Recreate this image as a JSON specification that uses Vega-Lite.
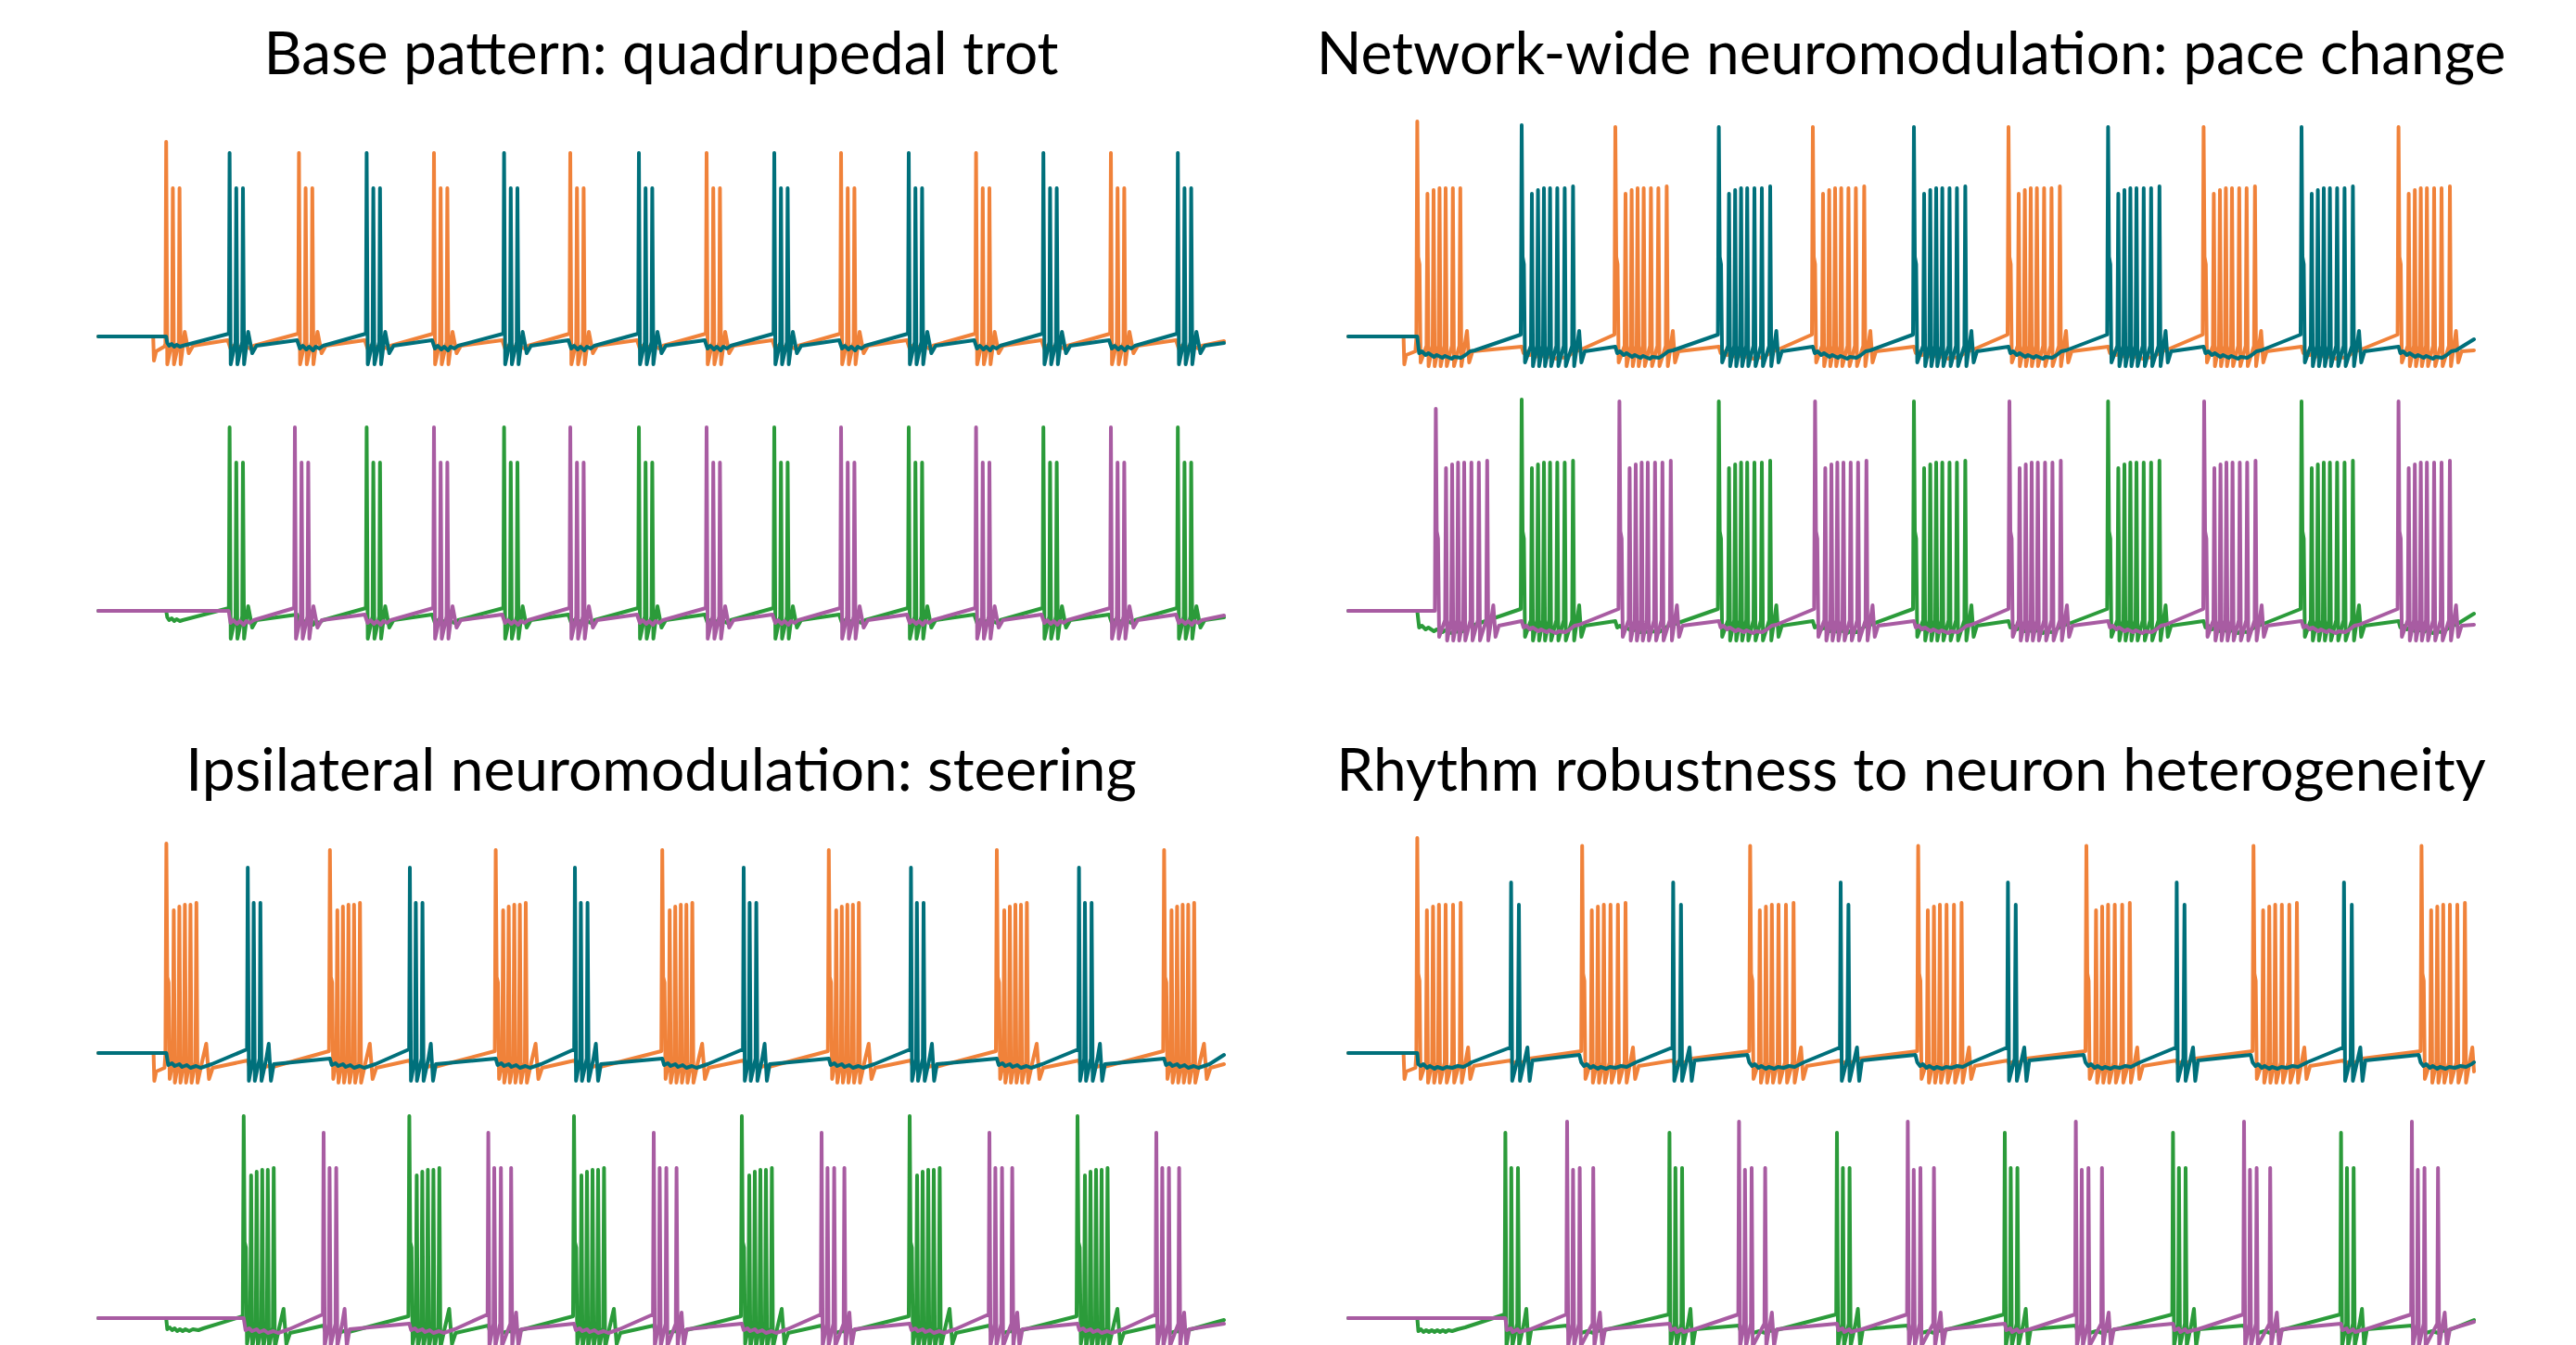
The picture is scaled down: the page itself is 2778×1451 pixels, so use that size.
{
"$schema":"https://vega.github.io/schema/vega-lite/v6.json",
"background":"white",
"padding":{"left":104,"top":29,"right":0,"bottom":0},
"config":{"view":{"stroke":null},"title":{"font":"Lato","fontSize":64,"fontWeight":"normal","color":"#000000","anchor":"middle","offset":36},"line":{"strokeWidth":4,"strokeJoin":"round","strokeCap":"round"}},
"datasets":{
"Ao":[{"t":0,"v":-65},{"t":296,"v":-65},{"t":300,"v":-78},{"t":312,"v":-73},{"t":355,"v":-70.5},
{"t":362,"v":-69},{"t":366,"v":40},{"t":372,"v":-80},{"t":398,"v":-68},{"t":402,"v":15},{"t":408,"v":-80},{"t":434,"v":-68},{"t":438,"v":15},{"t":444,"v":-80},{"t":466,"v":-62.5},{"t":488,"v":-74},{"t":511,"v":-70},
{"t":698,"v":-67},{"t":713,"v":-71.5},{"t":728,"v":-70},{"t":748,"v":-72},{"t":763,"v":-70.5},{"t":784,"v":-72.5},{"t":798,"v":-70.5},{"t":818,"v":-71.5},{"t":838,"v":-70},
{"t":1078,"v":-63.5},{"t":1082,"v":34},{"t":1088,"v":-80},{"t":1114,"v":-68},{"t":1118,"v":15},{"t":1124,"v":-80},{"t":1150,"v":-68},{"t":1154,"v":15},{"t":1160,"v":-80},{"t":1182,"v":-62.5},{"t":1204,"v":-74},{"t":1227,"v":-70},
{"t":1437,"v":-67},{"t":1452,"v":-71.5},{"t":1467,"v":-70},{"t":1487,"v":-72},{"t":1502,"v":-70.5},{"t":1523,"v":-72.5},{"t":1537,"v":-70.5},{"t":1557,"v":-71.5},{"t":1577,"v":-70},
{"t":1806,"v":-63.5},{"t":1810,"v":34},{"t":1816,"v":-80},{"t":1842,"v":-68},{"t":1846,"v":15},{"t":1852,"v":-80},{"t":1878,"v":-68},{"t":1882,"v":15},{"t":1888,"v":-80},{"t":1910,"v":-62.5},{"t":1932,"v":-74},{"t":1955,"v":-70},
{"t":2178,"v":-67},{"t":2193,"v":-71.5},{"t":2208,"v":-70},{"t":2228,"v":-72},{"t":2243,"v":-70.5},{"t":2264,"v":-72.5},{"t":2278,"v":-70.5},{"t":2298,"v":-71.5},{"t":2318,"v":-70},
{"t":2541,"v":-63.5},{"t":2545,"v":34},{"t":2551,"v":-80},{"t":2577,"v":-68},{"t":2581,"v":15},{"t":2587,"v":-80},{"t":2613,"v":-68},{"t":2617,"v":15},{"t":2623,"v":-80},{"t":2645,"v":-62.5},{"t":2667,"v":-74},{"t":2690,"v":-70},
{"t":2905,"v":-67},{"t":2920,"v":-71.5},{"t":2935,"v":-70},{"t":2955,"v":-72},{"t":2970,"v":-70.5},{"t":2991,"v":-72.5},{"t":3005,"v":-70.5},{"t":3025,"v":-71.5},{"t":3045,"v":-70},
{"t":3276,"v":-63.5},{"t":3280,"v":34},{"t":3286,"v":-80},{"t":3312,"v":-68},{"t":3316,"v":15},{"t":3322,"v":-80},{"t":3348,"v":-68},{"t":3352,"v":15},{"t":3358,"v":-80},{"t":3380,"v":-62.5},{"t":3402,"v":-74},{"t":3425,"v":-70},
{"t":3635,"v":-67},{"t":3650,"v":-71.5},{"t":3665,"v":-70},{"t":3685,"v":-72},{"t":3700,"v":-70.5},{"t":3721,"v":-72.5},{"t":3735,"v":-70.5},{"t":3755,"v":-71.5},{"t":3775,"v":-70},
{"t":4001,"v":-63.5},{"t":4005,"v":34},{"t":4011,"v":-80},{"t":4037,"v":-68},{"t":4041,"v":15},{"t":4047,"v":-80},{"t":4073,"v":-68},{"t":4077,"v":15},{"t":4083,"v":-80},{"t":4105,"v":-62.5},{"t":4127,"v":-74},{"t":4150,"v":-70},
{"t":4360,"v":-67},{"t":4375,"v":-71.5},{"t":4390,"v":-70},{"t":4410,"v":-72},{"t":4425,"v":-70.5},{"t":4446,"v":-72.5},{"t":4460,"v":-70.5},{"t":4480,"v":-71.5},{"t":4500,"v":-70},
{"t":4729,"v":-63.5},{"t":4733,"v":34},{"t":4739,"v":-80},{"t":4765,"v":-68},{"t":4769,"v":15},{"t":4775,"v":-80},{"t":4801,"v":-68},{"t":4805,"v":15},{"t":4811,"v":-80},{"t":4833,"v":-62.5},{"t":4855,"v":-74},{"t":4878,"v":-70},
{"t":5086,"v":-67},{"t":5101,"v":-71.5},{"t":5116,"v":-70},{"t":5136,"v":-72},{"t":5151,"v":-70.5},{"t":5172,"v":-72.5},{"t":5186,"v":-70.5},{"t":5206,"v":-71.5},{"t":5226,"v":-70},
{"t":5456,"v":-63.5},{"t":5460,"v":34},{"t":5466,"v":-80},{"t":5492,"v":-68},{"t":5496,"v":15},{"t":5502,"v":-80},{"t":5528,"v":-68},{"t":5532,"v":15},{"t":5538,"v":-80},{"t":5560,"v":-62.5},{"t":5582,"v":-74},{"t":5605,"v":-70},
{"t":5811,"v":-67},{"t":5826,"v":-71.5},{"t":5841,"v":-70},{"t":5861,"v":-72},{"t":5876,"v":-70.5},{"t":5897,"v":-72.5},{"t":5911,"v":-70.5},{"t":5931,"v":-71.5},{"t":5951,"v":-70},
{"t":6070,"v":-67.5}],
"Ap":[{"t":0,"v":-65},{"t":703,"v":-65},{"t":713,"v":-71.5},{"t":728,"v":-70},{"t":748,"v":-72},{"t":763,"v":-70.5},{"t":784,"v":-72.5},{"t":798,"v":-70.5},{"t":818,"v":-71.5},{"t":838,"v":-70},
{"t":1056,"v":-63.5},{"t":1060,"v":34},{"t":1066,"v":-80},{"t":1092,"v":-68},{"t":1096,"v":15},{"t":1102,"v":-80},{"t":1128,"v":-68},{"t":1132,"v":15},{"t":1138,"v":-80},{"t":1160,"v":-62.5},{"t":1182,"v":-74},{"t":1205,"v":-70},
{"t":1437,"v":-67},{"t":1452,"v":-71.5},{"t":1467,"v":-70},{"t":1487,"v":-72},{"t":1502,"v":-70.5},{"t":1523,"v":-72.5},{"t":1537,"v":-70.5},{"t":1557,"v":-71.5},{"t":1577,"v":-70},
{"t":1806,"v":-63.5},{"t":1810,"v":34},{"t":1816,"v":-80},{"t":1842,"v":-68},{"t":1846,"v":15},{"t":1852,"v":-80},{"t":1878,"v":-68},{"t":1882,"v":15},{"t":1888,"v":-80},{"t":1910,"v":-62.5},{"t":1932,"v":-74},{"t":1955,"v":-70},
{"t":2178,"v":-67},{"t":2193,"v":-71.5},{"t":2208,"v":-70},{"t":2228,"v":-72},{"t":2243,"v":-70.5},{"t":2264,"v":-72.5},{"t":2278,"v":-70.5},{"t":2298,"v":-71.5},{"t":2318,"v":-70},
{"t":2541,"v":-63.5},{"t":2545,"v":34},{"t":2551,"v":-80},{"t":2577,"v":-68},{"t":2581,"v":15},{"t":2587,"v":-80},{"t":2613,"v":-68},{"t":2617,"v":15},{"t":2623,"v":-80},{"t":2645,"v":-62.5},{"t":2667,"v":-74},{"t":2690,"v":-70},
{"t":2905,"v":-67},{"t":2920,"v":-71.5},{"t":2935,"v":-70},{"t":2955,"v":-72},{"t":2970,"v":-70.5},{"t":2991,"v":-72.5},{"t":3005,"v":-70.5},{"t":3025,"v":-71.5},{"t":3045,"v":-70},
{"t":3276,"v":-63.5},{"t":3280,"v":34},{"t":3286,"v":-80},{"t":3312,"v":-68},{"t":3316,"v":15},{"t":3322,"v":-80},{"t":3348,"v":-68},{"t":3352,"v":15},{"t":3358,"v":-80},{"t":3380,"v":-62.5},{"t":3402,"v":-74},{"t":3425,"v":-70},
{"t":3635,"v":-67},{"t":3650,"v":-71.5},{"t":3665,"v":-70},{"t":3685,"v":-72},{"t":3700,"v":-70.5},{"t":3721,"v":-72.5},{"t":3735,"v":-70.5},{"t":3755,"v":-71.5},{"t":3775,"v":-70},
{"t":4001,"v":-63.5},{"t":4005,"v":34},{"t":4011,"v":-80},{"t":4037,"v":-68},{"t":4041,"v":15},{"t":4047,"v":-80},{"t":4073,"v":-68},{"t":4077,"v":15},{"t":4083,"v":-80},{"t":4105,"v":-62.5},{"t":4127,"v":-74},{"t":4150,"v":-70},
{"t":4360,"v":-67},{"t":4375,"v":-71.5},{"t":4390,"v":-70},{"t":4410,"v":-72},{"t":4425,"v":-70.5},{"t":4446,"v":-72.5},{"t":4460,"v":-70.5},{"t":4480,"v":-71.5},{"t":4500,"v":-70},
{"t":4729,"v":-63.5},{"t":4733,"v":34},{"t":4739,"v":-80},{"t":4765,"v":-68},{"t":4769,"v":15},{"t":4775,"v":-80},{"t":4801,"v":-68},{"t":4805,"v":15},{"t":4811,"v":-80},{"t":4833,"v":-62.5},{"t":4855,"v":-74},{"t":4878,"v":-70},
{"t":5086,"v":-67},{"t":5101,"v":-71.5},{"t":5116,"v":-70},{"t":5136,"v":-72},{"t":5151,"v":-70.5},{"t":5172,"v":-72.5},{"t":5186,"v":-70.5},{"t":5206,"v":-71.5},{"t":5226,"v":-70},
{"t":5456,"v":-63.5},{"t":5460,"v":34},{"t":5466,"v":-80},{"t":5492,"v":-68},{"t":5496,"v":15},{"t":5502,"v":-80},{"t":5528,"v":-68},{"t":5532,"v":15},{"t":5538,"v":-80},{"t":5560,"v":-62.5},{"t":5582,"v":-74},{"t":5605,"v":-70},
{"t":5811,"v":-67},{"t":5826,"v":-71.5},{"t":5841,"v":-70},{"t":5861,"v":-72},{"t":5876,"v":-70.5},{"t":5897,"v":-72.5},{"t":5911,"v":-70.5},{"t":5931,"v":-71.5},{"t":5951,"v":-70},
{"t":6070,"v":-67.5}],
"At":[{"t":0,"v":-65},{"t":366,"v":-65},{"t":372,"v":-68.5},{"t":382,"v":-70},{"t":395,"v":-69},{"t":410,"v":-70.5},{"t":422,"v":-69.5},{"t":440,"v":-70.5},{"t":455,"v":-70},
{"t":704,"v":-63.5},{"t":708,"v":34},{"t":714,"v":-80},{"t":740,"v":-68},{"t":744,"v":15},{"t":750,"v":-80},{"t":776,"v":-68},{"t":780,"v":15},{"t":786,"v":-80},{"t":808,"v":-62.5},{"t":830,"v":-74},{"t":853,"v":-70},
{"t":1072,"v":-67},{"t":1087,"v":-71.5},{"t":1102,"v":-70},{"t":1122,"v":-72},{"t":1137,"v":-70.5},{"t":1158,"v":-72.5},{"t":1172,"v":-70.5},{"t":1192,"v":-71.5},{"t":1212,"v":-70},
{"t":1443,"v":-63.5},{"t":1447,"v":34},{"t":1453,"v":-80},{"t":1479,"v":-68},{"t":1483,"v":15},{"t":1489,"v":-80},{"t":1515,"v":-68},{"t":1519,"v":15},{"t":1525,"v":-80},{"t":1547,"v":-62.5},{"t":1569,"v":-74},{"t":1592,"v":-70},
{"t":1800,"v":-67},{"t":1815,"v":-71.5},{"t":1830,"v":-70},{"t":1850,"v":-72},{"t":1865,"v":-70.5},{"t":1886,"v":-72.5},{"t":1900,"v":-70.5},{"t":1920,"v":-71.5},{"t":1940,"v":-70},
{"t":2184,"v":-63.5},{"t":2188,"v":34},{"t":2194,"v":-80},{"t":2220,"v":-68},{"t":2224,"v":15},{"t":2230,"v":-80},{"t":2256,"v":-68},{"t":2260,"v":15},{"t":2266,"v":-80},{"t":2288,"v":-62.5},{"t":2310,"v":-74},{"t":2333,"v":-70},
{"t":2535,"v":-67},{"t":2550,"v":-71.5},{"t":2565,"v":-70},{"t":2585,"v":-72},{"t":2600,"v":-70.5},{"t":2621,"v":-72.5},{"t":2635,"v":-70.5},{"t":2655,"v":-71.5},{"t":2675,"v":-70},
{"t":2911,"v":-63.5},{"t":2915,"v":34},{"t":2921,"v":-80},{"t":2947,"v":-68},{"t":2951,"v":15},{"t":2957,"v":-80},{"t":2983,"v":-68},{"t":2987,"v":15},{"t":2993,"v":-80},{"t":3015,"v":-62.5},{"t":3037,"v":-74},{"t":3060,"v":-70},
{"t":3270,"v":-67},{"t":3285,"v":-71.5},{"t":3300,"v":-70},{"t":3320,"v":-72},{"t":3335,"v":-70.5},{"t":3356,"v":-72.5},{"t":3370,"v":-70.5},{"t":3390,"v":-71.5},{"t":3410,"v":-70},
{"t":3641,"v":-63.5},{"t":3645,"v":34},{"t":3651,"v":-80},{"t":3677,"v":-68},{"t":3681,"v":15},{"t":3687,"v":-80},{"t":3713,"v":-68},{"t":3717,"v":15},{"t":3723,"v":-80},{"t":3745,"v":-62.5},{"t":3767,"v":-74},{"t":3790,"v":-70},
{"t":3995,"v":-67},{"t":4010,"v":-71.5},{"t":4025,"v":-70},{"t":4045,"v":-72},{"t":4060,"v":-70.5},{"t":4081,"v":-72.5},{"t":4095,"v":-70.5},{"t":4115,"v":-71.5},{"t":4135,"v":-70},
{"t":4366,"v":-63.5},{"t":4370,"v":34},{"t":4376,"v":-80},{"t":4402,"v":-68},{"t":4406,"v":15},{"t":4412,"v":-80},{"t":4438,"v":-68},{"t":4442,"v":15},{"t":4448,"v":-80},{"t":4470,"v":-62.5},{"t":4492,"v":-74},{"t":4515,"v":-70},
{"t":4723,"v":-67},{"t":4738,"v":-71.5},{"t":4753,"v":-70},{"t":4773,"v":-72},{"t":4788,"v":-70.5},{"t":4809,"v":-72.5},{"t":4823,"v":-70.5},{"t":4843,"v":-71.5},{"t":4863,"v":-70},
{"t":5092,"v":-63.5},{"t":5096,"v":34},{"t":5102,"v":-80},{"t":5128,"v":-68},{"t":5132,"v":15},{"t":5138,"v":-80},{"t":5164,"v":-68},{"t":5168,"v":15},{"t":5174,"v":-80},{"t":5196,"v":-62.5},{"t":5218,"v":-74},{"t":5241,"v":-70},
{"t":5450,"v":-67},{"t":5465,"v":-71.5},{"t":5480,"v":-70},{"t":5500,"v":-72},{"t":5515,"v":-70.5},{"t":5536,"v":-72.5},{"t":5550,"v":-70.5},{"t":5570,"v":-71.5},{"t":5590,"v":-70},
{"t":5817,"v":-63.5},{"t":5821,"v":34},{"t":5827,"v":-80},{"t":5853,"v":-68},{"t":5857,"v":15},{"t":5863,"v":-80},{"t":5889,"v":-68},{"t":5893,"v":15},{"t":5899,"v":-80},{"t":5921,"v":-62.5},{"t":5943,"v":-74},{"t":5966,"v":-70},
{"t":6070,"v":-68.5}],
"Bo":[{"t":0,"v":-65},{"t":298,"v":-65},{"t":302,"v":-80},{"t":312,"v":-75},{"t":362,"v":-73},{"t":367,"v":-66},
{"t":372,"v":51},{"t":377,"v":-22},{"t":384,"v":-26},{"t":390,"v":-79},{"t":422,"v":-70},{"t":427,"v":12},{"t":433,"v":-81},{"t":455,"v":-70},{"t":460,"v":14},{"t":466,"v":-81},{"t":487,"v":-70},{"t":492,"v":15},{"t":498,"v":-81},{"t":520,"v":-70},{"t":525,"v":15},{"t":531,"v":-81},{"t":559,"v":-70},{"t":564,"v":15},{"t":570,"v":-81},{"t":599,"v":-70},{"t":604,"v":15},{"t":610,"v":-81},{"t":640,"v":-62},{"t":652,"v":-79},{"t":670,"v":-73},
{"t":935,"v":-70.5},{"t":945,"v":-74},{"t":960,"v":-73},{"t":980,"v":-75},{"t":995,"v":-74},{"t":1025,"v":-76},{"t":1040,"v":-75},{"t":1070,"v":-76.5},{"t":1085,"v":-75.5},{"t":1120,"v":-77},{"t":1135,"v":-76},{"t":1170,"v":-76.5},{"t":1195,"v":-75},{"t":1220,"v":-73},{"t":1245,"v":-72.5},
{"t":1435,"v":-64},{"t":1440,"v":48},{"t":1445,"v":-22},{"t":1452,"v":-26},{"t":1458,"v":-79},{"t":1490,"v":-70},{"t":1495,"v":12},{"t":1501,"v":-81},{"t":1523,"v":-70},{"t":1528,"v":14},{"t":1534,"v":-81},{"t":1555,"v":-70},{"t":1560,"v":15},{"t":1566,"v":-81},{"t":1588,"v":-70},{"t":1593,"v":15},{"t":1599,"v":-81},{"t":1627,"v":-70},{"t":1632,"v":15},{"t":1638,"v":-81},{"t":1667,"v":-70},{"t":1672,"v":15},{"t":1678,"v":-81},{"t":1712,"v":-70},{"t":1717,"v":16},{"t":1723,"v":-81},{"t":1750,"v":-62},{"t":1762,"v":-79},{"t":1780,"v":-73},
{"t":1998,"v":-70.5},{"t":2008,"v":-74},{"t":2023,"v":-73},{"t":2043,"v":-75},{"t":2058,"v":-74},{"t":2088,"v":-76},{"t":2103,"v":-75},{"t":2133,"v":-76.5},{"t":2148,"v":-75.5},{"t":2183,"v":-77},{"t":2198,"v":-76},{"t":2233,"v":-76.5},{"t":2258,"v":-75},{"t":2283,"v":-73},{"t":2308,"v":-72.5},
{"t":2500,"v":-64},{"t":2505,"v":48},{"t":2510,"v":-22},{"t":2517,"v":-26},{"t":2523,"v":-79},{"t":2555,"v":-70},{"t":2560,"v":12},{"t":2566,"v":-81},{"t":2588,"v":-70},{"t":2593,"v":14},{"t":2599,"v":-81},{"t":2620,"v":-70},{"t":2625,"v":15},{"t":2631,"v":-81},{"t":2653,"v":-70},{"t":2658,"v":15},{"t":2664,"v":-81},{"t":2692,"v":-70},{"t":2697,"v":15},{"t":2703,"v":-81},{"t":2732,"v":-70},{"t":2737,"v":15},{"t":2743,"v":-81},{"t":2777,"v":-70},{"t":2782,"v":16},{"t":2788,"v":-81},{"t":2815,"v":-62},{"t":2827,"v":-79},{"t":2845,"v":-73},
{"t":3050,"v":-70.5},{"t":3060,"v":-74},{"t":3075,"v":-73},{"t":3095,"v":-75},{"t":3110,"v":-74},{"t":3140,"v":-76},{"t":3155,"v":-75},{"t":3185,"v":-76.5},{"t":3200,"v":-75.5},{"t":3235,"v":-77},{"t":3250,"v":-76},{"t":3285,"v":-76.5},{"t":3310,"v":-75},{"t":3335,"v":-73},{"t":3360,"v":-72.5},
{"t":3555,"v":-64},{"t":3560,"v":48},{"t":3565,"v":-22},{"t":3572,"v":-26},{"t":3578,"v":-79},{"t":3610,"v":-70},{"t":3615,"v":12},{"t":3621,"v":-81},{"t":3643,"v":-70},{"t":3648,"v":14},{"t":3654,"v":-81},{"t":3675,"v":-70},{"t":3680,"v":15},{"t":3686,"v":-81},{"t":3708,"v":-70},{"t":3713,"v":15},{"t":3719,"v":-81},{"t":3747,"v":-70},{"t":3752,"v":15},{"t":3758,"v":-81},{"t":3787,"v":-70},{"t":3792,"v":15},{"t":3798,"v":-81},{"t":3832,"v":-70},{"t":3837,"v":16},{"t":3843,"v":-81},{"t":3870,"v":-62},{"t":3882,"v":-79},{"t":3900,"v":-73},
{"t":4097,"v":-70.5},{"t":4107,"v":-74},{"t":4122,"v":-73},{"t":4142,"v":-75},{"t":4157,"v":-74},{"t":4187,"v":-76},{"t":4202,"v":-75},{"t":4232,"v":-76.5},{"t":4247,"v":-75.5},{"t":4282,"v":-77},{"t":4297,"v":-76},{"t":4332,"v":-76.5},{"t":4357,"v":-75},{"t":4382,"v":-73},{"t":4407,"v":-72.5},
{"t":4607,"v":-64},{"t":4612,"v":48},{"t":4617,"v":-22},{"t":4624,"v":-26},{"t":4630,"v":-79},{"t":4662,"v":-70},{"t":4667,"v":12},{"t":4673,"v":-81},{"t":4695,"v":-70},{"t":4700,"v":14},{"t":4706,"v":-81},{"t":4727,"v":-70},{"t":4732,"v":15},{"t":4738,"v":-81},{"t":4760,"v":-70},{"t":4765,"v":15},{"t":4771,"v":-81},{"t":4799,"v":-70},{"t":4804,"v":15},{"t":4810,"v":-81},{"t":4839,"v":-70},{"t":4844,"v":15},{"t":4850,"v":-81},{"t":4884,"v":-70},{"t":4889,"v":16},{"t":4895,"v":-81},{"t":4922,"v":-62},{"t":4934,"v":-79},{"t":4952,"v":-73},
{"t":5140,"v":-70.5},{"t":5150,"v":-74},{"t":5165,"v":-73},{"t":5185,"v":-75},{"t":5200,"v":-74},{"t":5230,"v":-76},{"t":5245,"v":-75},{"t":5275,"v":-76.5},{"t":5290,"v":-75.5},{"t":5325,"v":-77},{"t":5340,"v":-76},{"t":5375,"v":-76.5},{"t":5400,"v":-75},{"t":5425,"v":-73},{"t":5450,"v":-72.5},
{"t":5658,"v":-64},{"t":5663,"v":48},{"t":5668,"v":-22},{"t":5675,"v":-26},{"t":5681,"v":-79},{"t":5713,"v":-70},{"t":5718,"v":12},{"t":5724,"v":-81},{"t":5746,"v":-70},{"t":5751,"v":14},{"t":5757,"v":-81},{"t":5778,"v":-70},{"t":5783,"v":15},{"t":5789,"v":-81},{"t":5811,"v":-70},{"t":5816,"v":15},{"t":5822,"v":-81},{"t":5850,"v":-70},{"t":5855,"v":15},{"t":5861,"v":-81},{"t":5890,"v":-70},{"t":5895,"v":15},{"t":5901,"v":-81},{"t":5935,"v":-70},{"t":5940,"v":16},{"t":5946,"v":-81},{"t":5973,"v":-62},{"t":5985,"v":-79},{"t":6003,"v":-73},
{"t":6070,"v":-72.5}],
"Bp":[{"t":0,"v":-65},{"t":467,"v":-65},
{"t":472,"v":44},{"t":477,"v":-22},{"t":484,"v":-26},{"t":490,"v":-79},{"t":522,"v":-70},{"t":527,"v":12},{"t":533,"v":-81},{"t":555,"v":-70},{"t":560,"v":14},{"t":566,"v":-81},{"t":587,"v":-70},{"t":592,"v":15},{"t":598,"v":-81},{"t":620,"v":-70},{"t":625,"v":15},{"t":631,"v":-81},{"t":659,"v":-70},{"t":664,"v":15},{"t":670,"v":-81},{"t":699,"v":-70},{"t":704,"v":15},{"t":710,"v":-81},{"t":744,"v":-70},{"t":749,"v":16},{"t":755,"v":-81},{"t":782,"v":-62},{"t":794,"v":-79},{"t":812,"v":-73},
{"t":935,"v":-70.5},{"t":945,"v":-74},{"t":960,"v":-73},{"t":980,"v":-75},{"t":995,"v":-74},{"t":1025,"v":-76},{"t":1040,"v":-75},{"t":1070,"v":-76.5},{"t":1085,"v":-75.5},{"t":1120,"v":-77},{"t":1135,"v":-76},{"t":1170,"v":-76.5},{"t":1195,"v":-75},{"t":1220,"v":-73},{"t":1245,"v":-72.5},
{"t":1457,"v":-64},{"t":1462,"v":48},{"t":1467,"v":-22},{"t":1474,"v":-26},{"t":1480,"v":-79},{"t":1512,"v":-70},{"t":1517,"v":12},{"t":1523,"v":-81},{"t":1545,"v":-70},{"t":1550,"v":14},{"t":1556,"v":-81},{"t":1577,"v":-70},{"t":1582,"v":15},{"t":1588,"v":-81},{"t":1610,"v":-70},{"t":1615,"v":15},{"t":1621,"v":-81},{"t":1649,"v":-70},{"t":1654,"v":15},{"t":1660,"v":-81},{"t":1689,"v":-70},{"t":1694,"v":15},{"t":1700,"v":-81},{"t":1734,"v":-70},{"t":1739,"v":16},{"t":1745,"v":-81},{"t":1772,"v":-62},{"t":1784,"v":-79},{"t":1802,"v":-73},
{"t":1998,"v":-70.5},{"t":2008,"v":-74},{"t":2023,"v":-73},{"t":2043,"v":-75},{"t":2058,"v":-74},{"t":2088,"v":-76},{"t":2103,"v":-75},{"t":2133,"v":-76.5},{"t":2148,"v":-75.5},{"t":2183,"v":-77},{"t":2198,"v":-76},{"t":2233,"v":-76.5},{"t":2258,"v":-75},{"t":2283,"v":-73},{"t":2308,"v":-72.5},
{"t":2512,"v":-64},{"t":2517,"v":48},{"t":2522,"v":-22},{"t":2529,"v":-26},{"t":2535,"v":-79},{"t":2567,"v":-70},{"t":2572,"v":12},{"t":2578,"v":-81},{"t":2600,"v":-70},{"t":2605,"v":14},{"t":2611,"v":-81},{"t":2632,"v":-70},{"t":2637,"v":15},{"t":2643,"v":-81},{"t":2665,"v":-70},{"t":2670,"v":15},{"t":2676,"v":-81},{"t":2704,"v":-70},{"t":2709,"v":15},{"t":2715,"v":-81},{"t":2744,"v":-70},{"t":2749,"v":15},{"t":2755,"v":-81},{"t":2789,"v":-70},{"t":2794,"v":16},{"t":2800,"v":-81},{"t":2827,"v":-62},{"t":2839,"v":-79},{"t":2857,"v":-73},
{"t":3050,"v":-70.5},{"t":3060,"v":-74},{"t":3075,"v":-73},{"t":3095,"v":-75},{"t":3110,"v":-74},{"t":3140,"v":-76},{"t":3155,"v":-75},{"t":3185,"v":-76.5},{"t":3200,"v":-75.5},{"t":3235,"v":-77},{"t":3250,"v":-76},{"t":3285,"v":-76.5},{"t":3310,"v":-75},{"t":3335,"v":-73},{"t":3360,"v":-72.5},
{"t":3560,"v":-64},{"t":3565,"v":48},{"t":3570,"v":-22},{"t":3577,"v":-26},{"t":3583,"v":-79},{"t":3615,"v":-70},{"t":3620,"v":12},{"t":3626,"v":-81},{"t":3648,"v":-70},{"t":3653,"v":14},{"t":3659,"v":-81},{"t":3680,"v":-70},{"t":3685,"v":15},{"t":3691,"v":-81},{"t":3713,"v":-70},{"t":3718,"v":15},{"t":3724,"v":-81},{"t":3752,"v":-70},{"t":3757,"v":15},{"t":3763,"v":-81},{"t":3792,"v":-70},{"t":3797,"v":15},{"t":3803,"v":-81},{"t":3837,"v":-70},{"t":3842,"v":16},{"t":3848,"v":-81},{"t":3875,"v":-62},{"t":3887,"v":-79},{"t":3905,"v":-73},
{"t":4097,"v":-70.5},{"t":4107,"v":-74},{"t":4122,"v":-73},{"t":4142,"v":-75},{"t":4157,"v":-74},{"t":4187,"v":-76},{"t":4202,"v":-75},{"t":4232,"v":-76.5},{"t":4247,"v":-75.5},{"t":4282,"v":-77},{"t":4297,"v":-76},{"t":4332,"v":-76.5},{"t":4357,"v":-75},{"t":4382,"v":-73},{"t":4407,"v":-72.5},
{"t":4610,"v":-64},{"t":4615,"v":48},{"t":4620,"v":-22},{"t":4627,"v":-26},{"t":4633,"v":-79},{"t":4665,"v":-70},{"t":4670,"v":12},{"t":4676,"v":-81},{"t":4698,"v":-70},{"t":4703,"v":14},{"t":4709,"v":-81},{"t":4730,"v":-70},{"t":4735,"v":15},{"t":4741,"v":-81},{"t":4763,"v":-70},{"t":4768,"v":15},{"t":4774,"v":-81},{"t":4802,"v":-70},{"t":4807,"v":15},{"t":4813,"v":-81},{"t":4842,"v":-70},{"t":4847,"v":15},{"t":4853,"v":-81},{"t":4887,"v":-70},{"t":4892,"v":16},{"t":4898,"v":-81},{"t":4925,"v":-62},{"t":4937,"v":-79},{"t":4955,"v":-73},
{"t":5140,"v":-70.5},{"t":5150,"v":-74},{"t":5165,"v":-73},{"t":5185,"v":-75},{"t":5200,"v":-74},{"t":5230,"v":-76},{"t":5245,"v":-75},{"t":5275,"v":-76.5},{"t":5290,"v":-75.5},{"t":5325,"v":-77},{"t":5340,"v":-76},{"t":5375,"v":-76.5},{"t":5400,"v":-75},{"t":5425,"v":-73},{"t":5450,"v":-72.5},
{"t":5658,"v":-64},{"t":5663,"v":48},{"t":5668,"v":-22},{"t":5675,"v":-26},{"t":5681,"v":-79},{"t":5713,"v":-70},{"t":5718,"v":12},{"t":5724,"v":-81},{"t":5746,"v":-70},{"t":5751,"v":14},{"t":5757,"v":-81},{"t":5778,"v":-70},{"t":5783,"v":15},{"t":5789,"v":-81},{"t":5811,"v":-70},{"t":5816,"v":15},{"t":5822,"v":-81},{"t":5850,"v":-70},{"t":5855,"v":15},{"t":5861,"v":-81},{"t":5890,"v":-70},{"t":5895,"v":15},{"t":5901,"v":-81},{"t":5935,"v":-70},{"t":5940,"v":16},{"t":5946,"v":-81},{"t":5973,"v":-62},{"t":5985,"v":-79},{"t":6003,"v":-73},
{"t":6070,"v":-72.5}],
"Bt":[{"t":0,"v":-65},{"t":372,"v":-65},{"t":382,"v":-74},{"t":397,"v":-73},{"t":417,"v":-75},{"t":432,"v":-74},{"t":462,"v":-76},{"t":477,"v":-75},{"t":507,"v":-76.5},{"t":522,"v":-75.5},{"t":557,"v":-77},{"t":572,"v":-76},{"t":607,"v":-76.5},{"t":632,"v":-75},{"t":657,"v":-73},{"t":682,"v":-72.5},
{"t":930,"v":-64},{"t":935,"v":49},{"t":940,"v":-22},{"t":947,"v":-26},{"t":953,"v":-79},{"t":985,"v":-70},{"t":990,"v":12},{"t":996,"v":-81},{"t":1018,"v":-70},{"t":1023,"v":14},{"t":1029,"v":-81},{"t":1050,"v":-70},{"t":1055,"v":15},{"t":1061,"v":-81},{"t":1083,"v":-70},{"t":1088,"v":15},{"t":1094,"v":-81},{"t":1122,"v":-70},{"t":1127,"v":15},{"t":1133,"v":-81},{"t":1162,"v":-70},{"t":1167,"v":15},{"t":1173,"v":-81},{"t":1207,"v":-70},{"t":1212,"v":16},{"t":1218,"v":-81},{"t":1245,"v":-62},{"t":1257,"v":-79},{"t":1275,"v":-73},
{"t":1440,"v":-70.5},{"t":1450,"v":-74},{"t":1465,"v":-73},{"t":1485,"v":-75},{"t":1500,"v":-74},{"t":1530,"v":-76},{"t":1545,"v":-75},{"t":1575,"v":-76.5},{"t":1590,"v":-75.5},{"t":1625,"v":-77},{"t":1640,"v":-76},{"t":1675,"v":-76.5},{"t":1700,"v":-75},{"t":1725,"v":-73},{"t":1750,"v":-72.5},
{"t":1993,"v":-64},{"t":1998,"v":48},{"t":2003,"v":-22},{"t":2010,"v":-26},{"t":2016,"v":-79},{"t":2048,"v":-70},{"t":2053,"v":12},{"t":2059,"v":-81},{"t":2081,"v":-70},{"t":2086,"v":14},{"t":2092,"v":-81},{"t":2113,"v":-70},{"t":2118,"v":15},{"t":2124,"v":-81},{"t":2146,"v":-70},{"t":2151,"v":15},{"t":2157,"v":-81},{"t":2185,"v":-70},{"t":2190,"v":15},{"t":2196,"v":-81},{"t":2225,"v":-70},{"t":2230,"v":15},{"t":2236,"v":-81},{"t":2270,"v":-70},{"t":2275,"v":16},{"t":2281,"v":-81},{"t":2308,"v":-62},{"t":2320,"v":-79},{"t":2338,"v":-73},
{"t":2505,"v":-70.5},{"t":2515,"v":-74},{"t":2530,"v":-73},{"t":2550,"v":-75},{"t":2565,"v":-74},{"t":2595,"v":-76},{"t":2610,"v":-75},{"t":2640,"v":-76.5},{"t":2655,"v":-75.5},{"t":2690,"v":-77},{"t":2705,"v":-76},{"t":2740,"v":-76.5},{"t":2765,"v":-75},{"t":2790,"v":-73},{"t":2815,"v":-72.5},
{"t":3045,"v":-64},{"t":3050,"v":48},{"t":3055,"v":-22},{"t":3062,"v":-26},{"t":3068,"v":-79},{"t":3100,"v":-70},{"t":3105,"v":12},{"t":3111,"v":-81},{"t":3133,"v":-70},{"t":3138,"v":14},{"t":3144,"v":-81},{"t":3165,"v":-70},{"t":3170,"v":15},{"t":3176,"v":-81},{"t":3198,"v":-70},{"t":3203,"v":15},{"t":3209,"v":-81},{"t":3237,"v":-70},{"t":3242,"v":15},{"t":3248,"v":-81},{"t":3277,"v":-70},{"t":3282,"v":15},{"t":3288,"v":-81},{"t":3322,"v":-70},{"t":3327,"v":16},{"t":3333,"v":-81},{"t":3360,"v":-62},{"t":3372,"v":-79},{"t":3390,"v":-73},
{"t":3560,"v":-70.5},{"t":3570,"v":-74},{"t":3585,"v":-73},{"t":3605,"v":-75},{"t":3620,"v":-74},{"t":3650,"v":-76},{"t":3665,"v":-75},{"t":3695,"v":-76.5},{"t":3710,"v":-75.5},{"t":3745,"v":-77},{"t":3760,"v":-76},{"t":3795,"v":-76.5},{"t":3820,"v":-75},{"t":3845,"v":-73},{"t":3870,"v":-72.5},
{"t":4092,"v":-64},{"t":4097,"v":48},{"t":4102,"v":-22},{"t":4109,"v":-26},{"t":4115,"v":-79},{"t":4147,"v":-70},{"t":4152,"v":12},{"t":4158,"v":-81},{"t":4180,"v":-70},{"t":4185,"v":14},{"t":4191,"v":-81},{"t":4212,"v":-70},{"t":4217,"v":15},{"t":4223,"v":-81},{"t":4245,"v":-70},{"t":4250,"v":15},{"t":4256,"v":-81},{"t":4284,"v":-70},{"t":4289,"v":15},{"t":4295,"v":-81},{"t":4324,"v":-70},{"t":4329,"v":15},{"t":4335,"v":-81},{"t":4369,"v":-70},{"t":4374,"v":16},{"t":4380,"v":-81},{"t":4407,"v":-62},{"t":4419,"v":-79},{"t":4437,"v":-73},
{"t":4612,"v":-70.5},{"t":4622,"v":-74},{"t":4637,"v":-73},{"t":4657,"v":-75},{"t":4672,"v":-74},{"t":4702,"v":-76},{"t":4717,"v":-75},{"t":4747,"v":-76.5},{"t":4762,"v":-75.5},{"t":4797,"v":-77},{"t":4812,"v":-76},{"t":4847,"v":-76.5},{"t":4872,"v":-75},{"t":4897,"v":-73},{"t":4922,"v":-72.5},
{"t":5135,"v":-64},{"t":5140,"v":48},{"t":5145,"v":-22},{"t":5152,"v":-26},{"t":5158,"v":-79},{"t":5190,"v":-70},{"t":5195,"v":12},{"t":5201,"v":-81},{"t":5223,"v":-70},{"t":5228,"v":14},{"t":5234,"v":-81},{"t":5255,"v":-70},{"t":5260,"v":15},{"t":5266,"v":-81},{"t":5288,"v":-70},{"t":5293,"v":15},{"t":5299,"v":-81},{"t":5327,"v":-70},{"t":5332,"v":15},{"t":5338,"v":-81},{"t":5367,"v":-70},{"t":5372,"v":15},{"t":5378,"v":-81},{"t":5412,"v":-70},{"t":5417,"v":16},{"t":5423,"v":-81},{"t":5450,"v":-62},{"t":5462,"v":-79},{"t":5480,"v":-73},
{"t":5663,"v":-70.5},{"t":5673,"v":-74},{"t":5688,"v":-73},{"t":5708,"v":-75},{"t":5723,"v":-74},{"t":5753,"v":-76},{"t":5768,"v":-75},{"t":5798,"v":-76.5},{"t":5813,"v":-75.5},{"t":5848,"v":-77},{"t":5863,"v":-76},{"t":5898,"v":-76.5},{"t":5923,"v":-75},{"t":5948,"v":-73},{"t":5973,"v":-72.5},
{"t":6070,"v":-66.5}],
"Co":[{"t":0,"v":-65},{"t":298,"v":-65},{"t":302,"v":-80},{"t":312,"v":-75},{"t":357,"v":-73},{"t":362,"v":-66},
{"t":367,"v":48},{"t":372,"v":-24},{"t":379,"v":-27},{"t":385,"v":-79},{"t":402,"v":-70},{"t":407,"v":12},{"t":413,"v":-81},{"t":432,"v":-70},{"t":437,"v":14},{"t":443,"v":-81},{"t":462,"v":-70},{"t":467,"v":15},{"t":473,"v":-81},{"t":492,"v":-70},{"t":497,"v":15},{"t":503,"v":-81},{"t":524,"v":-70},{"t":529,"v":16},{"t":535,"v":-81},{"t":559,"v":-70},{"t":582,"v":-60},{"t":597,"v":-79},{"t":617,"v":-73},
{"t":806,"v":-69},{"t":814,"v":-72},{"t":836,"v":-71},{"t":846,"v":-73},{"t":872,"v":-71.5},{"t":882,"v":-73},{"t":916,"v":-72},{"t":941,"v":-72.5},
{"t":1244,"v":-64},{"t":1249,"v":44.5},{"t":1254,"v":-24},{"t":1261,"v":-27},{"t":1267,"v":-79},{"t":1284,"v":-70},{"t":1289,"v":12},{"t":1295,"v":-81},{"t":1314,"v":-70},{"t":1319,"v":14},{"t":1325,"v":-81},{"t":1344,"v":-70},{"t":1349,"v":15},{"t":1355,"v":-81},{"t":1374,"v":-70},{"t":1379,"v":15},{"t":1385,"v":-81},{"t":1406,"v":-70},{"t":1411,"v":16},{"t":1417,"v":-81},{"t":1441,"v":-70},{"t":1464,"v":-60},{"t":1479,"v":-79},{"t":1499,"v":-73},
{"t":1680,"v":-69},{"t":1688,"v":-72},{"t":1710,"v":-71},{"t":1720,"v":-73},{"t":1746,"v":-71.5},{"t":1756,"v":-73},{"t":1790,"v":-72},{"t":1815,"v":-72.5},
{"t":2138,"v":-64},{"t":2143,"v":44.5},{"t":2148,"v":-24},{"t":2155,"v":-27},{"t":2161,"v":-79},{"t":2178,"v":-70},{"t":2183,"v":12},{"t":2189,"v":-81},{"t":2208,"v":-70},{"t":2213,"v":14},{"t":2219,"v":-81},{"t":2238,"v":-70},{"t":2243,"v":15},{"t":2249,"v":-81},{"t":2268,"v":-70},{"t":2273,"v":15},{"t":2279,"v":-81},{"t":2300,"v":-70},{"t":2305,"v":16},{"t":2311,"v":-81},{"t":2335,"v":-70},{"t":2358,"v":-60},{"t":2373,"v":-79},{"t":2393,"v":-73},
{"t":2570,"v":-69},{"t":2578,"v":-72},{"t":2600,"v":-71},{"t":2610,"v":-73},{"t":2636,"v":-71.5},{"t":2646,"v":-73},{"t":2680,"v":-72},{"t":2705,"v":-72.5},
{"t":3036,"v":-64},{"t":3041,"v":44.5},{"t":3046,"v":-24},{"t":3053,"v":-27},{"t":3059,"v":-79},{"t":3076,"v":-70},{"t":3081,"v":12},{"t":3087,"v":-81},{"t":3106,"v":-70},{"t":3111,"v":14},{"t":3117,"v":-81},{"t":3136,"v":-70},{"t":3141,"v":15},{"t":3147,"v":-81},{"t":3166,"v":-70},{"t":3171,"v":15},{"t":3177,"v":-81},{"t":3198,"v":-70},{"t":3203,"v":16},{"t":3209,"v":-81},{"t":3233,"v":-70},{"t":3256,"v":-60},{"t":3271,"v":-79},{"t":3291,"v":-73},
{"t":3480,"v":-69},{"t":3488,"v":-72},{"t":3510,"v":-71},{"t":3520,"v":-73},{"t":3546,"v":-71.5},{"t":3556,"v":-73},{"t":3590,"v":-72},{"t":3615,"v":-72.5},
{"t":3934,"v":-64},{"t":3939,"v":44.5},{"t":3944,"v":-24},{"t":3951,"v":-27},{"t":3957,"v":-79},{"t":3974,"v":-70},{"t":3979,"v":12},{"t":3985,"v":-81},{"t":4004,"v":-70},{"t":4009,"v":14},{"t":4015,"v":-81},{"t":4034,"v":-70},{"t":4039,"v":15},{"t":4045,"v":-81},{"t":4064,"v":-70},{"t":4069,"v":15},{"t":4075,"v":-81},{"t":4096,"v":-70},{"t":4101,"v":16},{"t":4107,"v":-81},{"t":4131,"v":-70},{"t":4154,"v":-60},{"t":4169,"v":-79},{"t":4189,"v":-73},
{"t":4382,"v":-69},{"t":4390,"v":-72},{"t":4412,"v":-71},{"t":4422,"v":-73},{"t":4448,"v":-71.5},{"t":4458,"v":-73},{"t":4492,"v":-72},{"t":4517,"v":-72.5},
{"t":4840,"v":-64},{"t":4845,"v":44.5},{"t":4850,"v":-24},{"t":4857,"v":-27},{"t":4863,"v":-79},{"t":4880,"v":-70},{"t":4885,"v":12},{"t":4891,"v":-81},{"t":4910,"v":-70},{"t":4915,"v":14},{"t":4921,"v":-81},{"t":4940,"v":-70},{"t":4945,"v":15},{"t":4951,"v":-81},{"t":4970,"v":-70},{"t":4975,"v":15},{"t":4981,"v":-81},{"t":5002,"v":-70},{"t":5007,"v":16},{"t":5013,"v":-81},{"t":5037,"v":-70},{"t":5060,"v":-60},{"t":5075,"v":-79},{"t":5095,"v":-73},
{"t":5288,"v":-69},{"t":5296,"v":-72},{"t":5318,"v":-71},{"t":5328,"v":-73},{"t":5354,"v":-71.5},{"t":5364,"v":-73},{"t":5398,"v":-72},{"t":5423,"v":-72.5},
{"t":5742,"v":-64},{"t":5747,"v":44.5},{"t":5752,"v":-24},{"t":5759,"v":-27},{"t":5765,"v":-79},{"t":5782,"v":-70},{"t":5787,"v":12},{"t":5793,"v":-81},{"t":5812,"v":-70},{"t":5817,"v":14},{"t":5823,"v":-81},{"t":5842,"v":-70},{"t":5847,"v":15},{"t":5853,"v":-81},{"t":5872,"v":-70},{"t":5877,"v":15},{"t":5883,"v":-81},{"t":5904,"v":-70},{"t":5909,"v":16},{"t":5915,"v":-81},{"t":5939,"v":-70},{"t":5962,"v":-60},{"t":5977,"v":-79},{"t":5997,"v":-73},
{"t":6070,"v":-71}],
"Ct":[{"t":0,"v":-65},{"t":367,"v":-65},{"t":377,"v":-71.5},{"t":397,"v":-70.5},{"t":412,"v":-72},{"t":437,"v":-71},{"t":452,"v":-72.5},{"t":477,"v":-71.5},{"t":497,"v":-73},{"t":527,"v":-72},{"t":552,"v":-73},{"t":582,"v":-72},{"t":612,"v":-71},
{"t":802,"v":-63},{"t":806,"v":35},{"t":812,"v":-80},{"t":834,"v":-68},{"t":838,"v":16},{"t":844,"v":-80},{"t":870,"v":-68},{"t":874,"v":16},{"t":880,"v":-80},{"t":906,"v":-68},{"t":919,"v":-60},{"t":931,"v":-80},{"t":946,"v":-71},
{"t":1249,"v":-68},{"t":1259,"v":-71.5},{"t":1279,"v":-70.5},{"t":1294,"v":-72},{"t":1319,"v":-71},{"t":1334,"v":-72.5},{"t":1359,"v":-71.5},{"t":1379,"v":-73},{"t":1409,"v":-72},{"t":1434,"v":-73},{"t":1464,"v":-72},{"t":1494,"v":-71},
{"t":1676,"v":-63},{"t":1680,"v":35},{"t":1686,"v":-80},{"t":1708,"v":-68},{"t":1712,"v":16},{"t":1718,"v":-80},{"t":1744,"v":-68},{"t":1748,"v":16},{"t":1754,"v":-80},{"t":1780,"v":-68},{"t":1793,"v":-60},{"t":1805,"v":-80},{"t":1820,"v":-71},
{"t":2143,"v":-68},{"t":2153,"v":-71.5},{"t":2173,"v":-70.5},{"t":2188,"v":-72},{"t":2213,"v":-71},{"t":2228,"v":-72.5},{"t":2253,"v":-71.5},{"t":2273,"v":-73},{"t":2303,"v":-72},{"t":2328,"v":-73},{"t":2358,"v":-72},{"t":2388,"v":-71},
{"t":2566,"v":-63},{"t":2570,"v":35},{"t":2576,"v":-80},{"t":2598,"v":-68},{"t":2602,"v":16},{"t":2608,"v":-80},{"t":2634,"v":-68},{"t":2638,"v":16},{"t":2644,"v":-80},{"t":2670,"v":-68},{"t":2683,"v":-60},{"t":2695,"v":-80},{"t":2710,"v":-71},
{"t":3041,"v":-68},{"t":3051,"v":-71.5},{"t":3071,"v":-70.5},{"t":3086,"v":-72},{"t":3111,"v":-71},{"t":3126,"v":-72.5},{"t":3151,"v":-71.5},{"t":3171,"v":-73},{"t":3201,"v":-72},{"t":3226,"v":-73},{"t":3256,"v":-72},{"t":3286,"v":-71},
{"t":3476,"v":-63},{"t":3480,"v":35},{"t":3486,"v":-80},{"t":3508,"v":-68},{"t":3512,"v":16},{"t":3518,"v":-80},{"t":3544,"v":-68},{"t":3548,"v":16},{"t":3554,"v":-80},{"t":3580,"v":-68},{"t":3593,"v":-60},{"t":3605,"v":-80},{"t":3620,"v":-71},
{"t":3939,"v":-68},{"t":3949,"v":-71.5},{"t":3969,"v":-70.5},{"t":3984,"v":-72},{"t":4009,"v":-71},{"t":4024,"v":-72.5},{"t":4049,"v":-71.5},{"t":4069,"v":-73},{"t":4099,"v":-72},{"t":4124,"v":-73},{"t":4154,"v":-72},{"t":4184,"v":-71},
{"t":4378,"v":-63},{"t":4382,"v":35},{"t":4388,"v":-80},{"t":4410,"v":-68},{"t":4414,"v":16},{"t":4420,"v":-80},{"t":4446,"v":-68},{"t":4450,"v":16},{"t":4456,"v":-80},{"t":4482,"v":-68},{"t":4495,"v":-60},{"t":4507,"v":-80},{"t":4522,"v":-71},
{"t":4845,"v":-68},{"t":4855,"v":-71.5},{"t":4875,"v":-70.5},{"t":4890,"v":-72},{"t":4915,"v":-71},{"t":4930,"v":-72.5},{"t":4955,"v":-71.5},{"t":4975,"v":-73},{"t":5005,"v":-72},{"t":5030,"v":-73},{"t":5060,"v":-72},{"t":5090,"v":-71},
{"t":5284,"v":-63},{"t":5288,"v":35},{"t":5294,"v":-80},{"t":5316,"v":-68},{"t":5320,"v":16},{"t":5326,"v":-80},{"t":5352,"v":-68},{"t":5356,"v":16},{"t":5362,"v":-80},{"t":5388,"v":-68},{"t":5401,"v":-60},{"t":5413,"v":-80},{"t":5428,"v":-71},
{"t":5747,"v":-68},{"t":5757,"v":-71.5},{"t":5777,"v":-70.5},{"t":5792,"v":-72},{"t":5817,"v":-71},{"t":5832,"v":-72.5},{"t":5857,"v":-71.5},{"t":5877,"v":-73},{"t":5907,"v":-72},{"t":5932,"v":-73},{"t":5962,"v":-72},{"t":5992,"v":-71},
{"t":6070,"v":-66}],
"Cg":[{"t":0,"v":-65},{"t":366,"v":-65},{"t":372,"v":-71},{"t":385,"v":-70},{"t":398,"v":-71.5},{"t":412,"v":-70.5},{"t":425,"v":-72},{"t":440,"v":-71},{"t":455,"v":-72},{"t":470,"v":-71},{"t":490,"v":-72},{"t":510,"v":-71},{"t":540,"v":-71.5},{"t":567,"v":-70.5},
{"t":779,"v":-64},{"t":784,"v":44},{"t":789,"v":-24},{"t":796,"v":-27},{"t":802,"v":-79},{"t":819,"v":-70},{"t":824,"v":12},{"t":830,"v":-81},{"t":849,"v":-70},{"t":854,"v":14},{"t":860,"v":-81},{"t":879,"v":-70},{"t":884,"v":15},{"t":890,"v":-81},{"t":909,"v":-70},{"t":914,"v":15},{"t":920,"v":-81},{"t":941,"v":-70},{"t":946,"v":16},{"t":952,"v":-81},{"t":976,"v":-70},{"t":999,"v":-60},{"t":1014,"v":-79},{"t":1034,"v":-73},
{"t":1215,"v":-69},{"t":1223,"v":-72},{"t":1245,"v":-71},{"t":1255,"v":-73},{"t":1281,"v":-71.5},{"t":1291,"v":-73},{"t":1325,"v":-72},{"t":1350,"v":-72.5},
{"t":1672,"v":-64},{"t":1677,"v":44},{"t":1682,"v":-24},{"t":1689,"v":-27},{"t":1695,"v":-79},{"t":1712,"v":-70},{"t":1717,"v":12},{"t":1723,"v":-81},{"t":1742,"v":-70},{"t":1747,"v":14},{"t":1753,"v":-81},{"t":1772,"v":-70},{"t":1777,"v":15},{"t":1783,"v":-81},{"t":1802,"v":-70},{"t":1807,"v":15},{"t":1813,"v":-81},{"t":1834,"v":-70},{"t":1839,"v":16},{"t":1845,"v":-81},{"t":1869,"v":-70},{"t":1892,"v":-60},{"t":1907,"v":-79},{"t":1927,"v":-73},
{"t":2103,"v":-69},{"t":2111,"v":-72},{"t":2133,"v":-71},{"t":2143,"v":-73},{"t":2169,"v":-71.5},{"t":2179,"v":-73},{"t":2213,"v":-72},{"t":2238,"v":-72.5},
{"t":2560,"v":-64},{"t":2565,"v":44},{"t":2570,"v":-24},{"t":2577,"v":-27},{"t":2583,"v":-79},{"t":2600,"v":-70},{"t":2605,"v":12},{"t":2611,"v":-81},{"t":2630,"v":-70},{"t":2635,"v":14},{"t":2641,"v":-81},{"t":2660,"v":-70},{"t":2665,"v":15},{"t":2671,"v":-81},{"t":2690,"v":-70},{"t":2695,"v":15},{"t":2701,"v":-81},{"t":2722,"v":-70},{"t":2727,"v":16},{"t":2733,"v":-81},{"t":2757,"v":-70},{"t":2780,"v":-60},{"t":2795,"v":-79},{"t":2815,"v":-73},
{"t":2995,"v":-69},{"t":3003,"v":-72},{"t":3025,"v":-71},{"t":3035,"v":-73},{"t":3061,"v":-71.5},{"t":3071,"v":-73},{"t":3105,"v":-72},{"t":3130,"v":-72.5},
{"t":3465,"v":-64},{"t":3470,"v":44},{"t":3475,"v":-24},{"t":3482,"v":-27},{"t":3488,"v":-79},{"t":3505,"v":-70},{"t":3510,"v":12},{"t":3516,"v":-81},{"t":3535,"v":-70},{"t":3540,"v":14},{"t":3546,"v":-81},{"t":3565,"v":-70},{"t":3570,"v":15},{"t":3576,"v":-81},{"t":3595,"v":-70},{"t":3600,"v":15},{"t":3606,"v":-81},{"t":3627,"v":-70},{"t":3632,"v":16},{"t":3638,"v":-81},{"t":3662,"v":-70},{"t":3685,"v":-60},{"t":3700,"v":-79},{"t":3720,"v":-73},
{"t":3900,"v":-69},{"t":3908,"v":-72},{"t":3930,"v":-71},{"t":3940,"v":-73},{"t":3966,"v":-71.5},{"t":3976,"v":-73},{"t":4010,"v":-72},{"t":4035,"v":-72.5},
{"t":4370,"v":-64},{"t":4375,"v":44},{"t":4380,"v":-24},{"t":4387,"v":-27},{"t":4393,"v":-79},{"t":4410,"v":-70},{"t":4415,"v":12},{"t":4421,"v":-81},{"t":4440,"v":-70},{"t":4445,"v":14},{"t":4451,"v":-81},{"t":4470,"v":-70},{"t":4475,"v":15},{"t":4481,"v":-81},{"t":4500,"v":-70},{"t":4505,"v":15},{"t":4511,"v":-81},{"t":4532,"v":-70},{"t":4537,"v":16},{"t":4543,"v":-81},{"t":4567,"v":-70},{"t":4590,"v":-60},{"t":4605,"v":-79},{"t":4625,"v":-73},
{"t":4805,"v":-69},{"t":4813,"v":-72},{"t":4835,"v":-71},{"t":4845,"v":-73},{"t":4871,"v":-71.5},{"t":4881,"v":-73},{"t":4915,"v":-72},{"t":4940,"v":-72.5},
{"t":5275,"v":-64},{"t":5280,"v":44},{"t":5285,"v":-24},{"t":5292,"v":-27},{"t":5298,"v":-79},{"t":5315,"v":-70},{"t":5320,"v":12},{"t":5326,"v":-81},{"t":5345,"v":-70},{"t":5350,"v":14},{"t":5356,"v":-81},{"t":5375,"v":-70},{"t":5380,"v":15},{"t":5386,"v":-81},{"t":5405,"v":-70},{"t":5410,"v":15},{"t":5416,"v":-81},{"t":5437,"v":-70},{"t":5442,"v":16},{"t":5448,"v":-81},{"t":5472,"v":-70},{"t":5495,"v":-60},{"t":5510,"v":-79},{"t":5530,"v":-73},
{"t":5705,"v":-69},{"t":5713,"v":-72},{"t":5735,"v":-71},{"t":5745,"v":-73},{"t":5771,"v":-71.5},{"t":5781,"v":-73},{"t":5815,"v":-72},{"t":5840,"v":-72.5},
{"t":6070,"v":-66}],
"Cp":[{"t":0,"v":-65},{"t":784,"v":-65},{"t":794,"v":-71.5},{"t":814,"v":-70.5},{"t":829,"v":-72},{"t":854,"v":-71},{"t":869,"v":-72.5},{"t":894,"v":-71.5},{"t":914,"v":-73},{"t":944,"v":-72},{"t":969,"v":-73},{"t":999,"v":-72},{"t":1029,"v":-71},
{"t":1211,"v":-63},{"t":1215,"v":35},{"t":1221,"v":-80},{"t":1243,"v":-68},{"t":1247,"v":16},{"t":1253,"v":-80},{"t":1279,"v":-68},{"t":1283,"v":16},{"t":1289,"v":-80},{"t":1315,"v":-68},{"t":1328,"v":-60},{"t":1340,"v":-80},{"t":1355,"v":-71},
{"t":1677,"v":-68},{"t":1687,"v":-71.5},{"t":1707,"v":-70.5},{"t":1722,"v":-72},{"t":1747,"v":-71},{"t":1762,"v":-72.5},{"t":1787,"v":-71.5},{"t":1807,"v":-73},{"t":1837,"v":-72},{"t":1862,"v":-73},{"t":1892,"v":-72},{"t":1922,"v":-71},
{"t":2099,"v":-63},{"t":2103,"v":35},{"t":2109,"v":-80},{"t":2131,"v":-68},{"t":2135,"v":16},{"t":2141,"v":-80},{"t":2167,"v":-68},{"t":2171,"v":16},{"t":2177,"v":-80},{"t":2222,"v":-68},{"t":2226,"v":16},{"t":2232,"v":-80},{"t":2253,"v":-62},{"t":2265,"v":-80},{"t":2281,"v":-71},
{"t":2565,"v":-68},{"t":2575,"v":-71.5},{"t":2595,"v":-70.5},{"t":2610,"v":-72},{"t":2635,"v":-71},{"t":2650,"v":-72.5},{"t":2675,"v":-71.5},{"t":2695,"v":-73},{"t":2725,"v":-72},{"t":2750,"v":-73},{"t":2780,"v":-72},{"t":2810,"v":-71},
{"t":2991,"v":-63},{"t":2995,"v":35},{"t":3001,"v":-80},{"t":3023,"v":-68},{"t":3027,"v":16},{"t":3033,"v":-80},{"t":3059,"v":-68},{"t":3063,"v":16},{"t":3069,"v":-80},{"t":3114,"v":-68},{"t":3118,"v":16},{"t":3124,"v":-80},{"t":3145,"v":-62},{"t":3157,"v":-80},{"t":3173,"v":-71},
{"t":3470,"v":-68},{"t":3480,"v":-71.5},{"t":3500,"v":-70.5},{"t":3515,"v":-72},{"t":3540,"v":-71},{"t":3555,"v":-72.5},{"t":3580,"v":-71.5},{"t":3600,"v":-73},{"t":3630,"v":-72},{"t":3655,"v":-73},{"t":3685,"v":-72},{"t":3715,"v":-71},
{"t":3896,"v":-63},{"t":3900,"v":35},{"t":3906,"v":-80},{"t":3928,"v":-68},{"t":3932,"v":16},{"t":3938,"v":-80},{"t":3964,"v":-68},{"t":3968,"v":16},{"t":3974,"v":-80},{"t":4019,"v":-68},{"t":4023,"v":16},{"t":4029,"v":-80},{"t":4050,"v":-62},{"t":4062,"v":-80},{"t":4078,"v":-71},
{"t":4375,"v":-68},{"t":4385,"v":-71.5},{"t":4405,"v":-70.5},{"t":4420,"v":-72},{"t":4445,"v":-71},{"t":4460,"v":-72.5},{"t":4485,"v":-71.5},{"t":4505,"v":-73},{"t":4535,"v":-72},{"t":4560,"v":-73},{"t":4590,"v":-72},{"t":4620,"v":-71},
{"t":4801,"v":-63},{"t":4805,"v":35},{"t":4811,"v":-80},{"t":4833,"v":-68},{"t":4837,"v":16},{"t":4843,"v":-80},{"t":4869,"v":-68},{"t":4873,"v":16},{"t":4879,"v":-80},{"t":4924,"v":-68},{"t":4928,"v":16},{"t":4934,"v":-80},{"t":4955,"v":-62},{"t":4967,"v":-80},{"t":4983,"v":-71},
{"t":5280,"v":-68},{"t":5290,"v":-71.5},{"t":5310,"v":-70.5},{"t":5325,"v":-72},{"t":5350,"v":-71},{"t":5365,"v":-72.5},{"t":5390,"v":-71.5},{"t":5410,"v":-73},{"t":5440,"v":-72},{"t":5465,"v":-73},{"t":5495,"v":-72},{"t":5525,"v":-71},
{"t":5701,"v":-63},{"t":5705,"v":35},{"t":5711,"v":-80},{"t":5733,"v":-68},{"t":5737,"v":16},{"t":5743,"v":-80},{"t":5769,"v":-68},{"t":5773,"v":16},{"t":5779,"v":-80},{"t":5824,"v":-68},{"t":5828,"v":16},{"t":5834,"v":-80},{"t":5855,"v":-62},{"t":5867,"v":-80},{"t":5883,"v":-71},
{"t":6070,"v":-68}],
"Do":[{"t":0,"v":-65},{"t":298,"v":-65},{"t":303,"v":-79},{"t":312,"v":-75},{"t":362,"v":-73},{"t":367,"v":-66},
{"t":372,"v":51},{"t":377,"v":-22},{"t":384,"v":-26},{"t":390,"v":-79},{"t":419,"v":-70},{"t":424,"v":12},{"t":430,"v":-81},{"t":452,"v":-70},{"t":457,"v":14},{"t":463,"v":-81},{"t":484,"v":-70},{"t":489,"v":15},{"t":495,"v":-81},{"t":520,"v":-70},{"t":525,"v":15},{"t":531,"v":-81},{"t":560,"v":-70},{"t":565,"v":15},{"t":571,"v":-81},{"t":601,"v":-70},{"t":606,"v":16},{"t":612,"v":-81},{"t":646,"v":-62},{"t":658,"v":-79},{"t":677,"v":-72},
{"t":878,"v":-69},{"t":884,"v":-71},{"t":898,"v":-70},{"t":920,"v":-71.5},{"t":938,"v":-70},{"t":978,"v":-68},
{"t":1256,"v":-64},{"t":1261,"v":46.7},{"t":1266,"v":-22},{"t":1273,"v":-26},{"t":1279,"v":-79},{"t":1308,"v":-70},{"t":1313,"v":12},{"t":1319,"v":-81},{"t":1341,"v":-70},{"t":1346,"v":14},{"t":1352,"v":-81},{"t":1373,"v":-70},{"t":1378,"v":15},{"t":1384,"v":-81},{"t":1409,"v":-70},{"t":1414,"v":15},{"t":1420,"v":-81},{"t":1449,"v":-70},{"t":1454,"v":15},{"t":1460,"v":-81},{"t":1490,"v":-70},{"t":1495,"v":16},{"t":1501,"v":-81},{"t":1535,"v":-62},{"t":1547,"v":-79},{"t":1566,"v":-72},
{"t":1752,"v":-69},{"t":1758,"v":-71},{"t":1772,"v":-70},{"t":1794,"v":-71.5},{"t":1812,"v":-70},{"t":1852,"v":-68},
{"t":2162,"v":-64},{"t":2167,"v":46.7},{"t":2172,"v":-22},{"t":2179,"v":-26},{"t":2185,"v":-79},{"t":2214,"v":-70},{"t":2219,"v":12},{"t":2225,"v":-81},{"t":2247,"v":-70},{"t":2252,"v":14},{"t":2258,"v":-81},{"t":2279,"v":-70},{"t":2284,"v":15},{"t":2290,"v":-81},{"t":2315,"v":-70},{"t":2320,"v":15},{"t":2326,"v":-81},{"t":2355,"v":-70},{"t":2360,"v":15},{"t":2366,"v":-81},{"t":2396,"v":-70},{"t":2401,"v":16},{"t":2407,"v":-81},{"t":2441,"v":-62},{"t":2453,"v":-79},{"t":2472,"v":-72},
{"t":2655,"v":-69},{"t":2661,"v":-71},{"t":2675,"v":-70},{"t":2697,"v":-71.5},{"t":2715,"v":-70},{"t":2755,"v":-68},
{"t":3068,"v":-64},{"t":3073,"v":46.7},{"t":3078,"v":-22},{"t":3085,"v":-26},{"t":3091,"v":-79},{"t":3120,"v":-70},{"t":3125,"v":12},{"t":3131,"v":-81},{"t":3153,"v":-70},{"t":3158,"v":14},{"t":3164,"v":-81},{"t":3185,"v":-70},{"t":3190,"v":15},{"t":3196,"v":-81},{"t":3221,"v":-70},{"t":3226,"v":15},{"t":3232,"v":-81},{"t":3261,"v":-70},{"t":3266,"v":15},{"t":3272,"v":-81},{"t":3302,"v":-70},{"t":3307,"v":16},{"t":3313,"v":-81},{"t":3347,"v":-62},{"t":3359,"v":-79},{"t":3378,"v":-72},
{"t":3557,"v":-69},{"t":3563,"v":-71},{"t":3577,"v":-70},{"t":3599,"v":-71.5},{"t":3617,"v":-70},{"t":3657,"v":-68},
{"t":3975,"v":-64},{"t":3980,"v":46.7},{"t":3985,"v":-22},{"t":3992,"v":-26},{"t":3998,"v":-79},{"t":4027,"v":-70},{"t":4032,"v":12},{"t":4038,"v":-81},{"t":4060,"v":-70},{"t":4065,"v":14},{"t":4071,"v":-81},{"t":4092,"v":-70},{"t":4097,"v":15},{"t":4103,"v":-81},{"t":4128,"v":-70},{"t":4133,"v":15},{"t":4139,"v":-81},{"t":4168,"v":-70},{"t":4173,"v":15},{"t":4179,"v":-81},{"t":4209,"v":-70},{"t":4214,"v":16},{"t":4220,"v":-81},{"t":4254,"v":-62},{"t":4266,"v":-79},{"t":4285,"v":-72},
{"t":4467,"v":-69},{"t":4473,"v":-71},{"t":4487,"v":-70},{"t":4509,"v":-71.5},{"t":4527,"v":-70},{"t":4567,"v":-68},
{"t":4876,"v":-64},{"t":4881,"v":46.7},{"t":4886,"v":-22},{"t":4893,"v":-26},{"t":4899,"v":-79},{"t":4928,"v":-70},{"t":4933,"v":12},{"t":4939,"v":-81},{"t":4961,"v":-70},{"t":4966,"v":14},{"t":4972,"v":-81},{"t":4993,"v":-70},{"t":4998,"v":15},{"t":5004,"v":-81},{"t":5029,"v":-70},{"t":5034,"v":15},{"t":5040,"v":-81},{"t":5069,"v":-70},{"t":5074,"v":15},{"t":5080,"v":-81},{"t":5110,"v":-70},{"t":5115,"v":16},{"t":5121,"v":-81},{"t":5155,"v":-62},{"t":5167,"v":-79},{"t":5186,"v":-72},
{"t":5369,"v":-69},{"t":5375,"v":-71},{"t":5389,"v":-70},{"t":5411,"v":-71.5},{"t":5429,"v":-70},{"t":5469,"v":-68},
{"t":5782,"v":-64},{"t":5787,"v":46.7},{"t":5792,"v":-22},{"t":5799,"v":-26},{"t":5805,"v":-79},{"t":5834,"v":-70},{"t":5839,"v":12},{"t":5845,"v":-81},{"t":5867,"v":-70},{"t":5872,"v":14},{"t":5878,"v":-81},{"t":5899,"v":-70},{"t":5904,"v":15},{"t":5910,"v":-81},{"t":5935,"v":-70},{"t":5940,"v":15},{"t":5946,"v":-81},{"t":5975,"v":-70},{"t":5980,"v":15},{"t":5986,"v":-81},{"t":6016,"v":-70},{"t":6021,"v":16},{"t":6027,"v":-81},{"t":6061,"v":-62},{"t":6070,"v":-75}],
"Dt":[{"t":0,"v":-65},{"t":372,"v":-65},{"t":377,"v":-71},{"t":390,"v":-72},{"t":405,"v":-71},{"t":425,"v":-73},{"t":440,"v":-72},{"t":465,"v":-73.5},{"t":480,"v":-72.5},{"t":510,"v":-73.5},{"t":530,"v":-72.5},{"t":560,"v":-73},{"t":590,"v":-72},{"t":620,"v":-72.5},{"t":650,"v":-71},{"t":665,"v":-70},
{"t":874,"v":-62},{"t":878,"v":27},{"t":884,"v":-80},{"t":914,"v":-68},{"t":920,"v":15},{"t":926,"v":-80},{"t":953,"v":-68},{"t":966,"v":-62},{"t":978,"v":-80},{"t":993,"v":-69},
{"t":1246,"v":-66},{"t":1256,"v":-70},{"t":1271,"v":-72},{"t":1286,"v":-71},{"t":1306,"v":-73},{"t":1321,"v":-72},{"t":1346,"v":-73.5},{"t":1361,"v":-72.5},{"t":1391,"v":-73.5},{"t":1411,"v":-72.5},{"t":1441,"v":-73},{"t":1471,"v":-72},{"t":1501,"v":-72.5},{"t":1531,"v":-71},{"t":1551,"v":-70},
{"t":1748,"v":-62},{"t":1752,"v":27},{"t":1758,"v":-80},{"t":1788,"v":-68},{"t":1794,"v":15},{"t":1800,"v":-80},{"t":1827,"v":-68},{"t":1840,"v":-62},{"t":1852,"v":-80},{"t":1867,"v":-69},
{"t":2152,"v":-66},{"t":2162,"v":-70},{"t":2177,"v":-72},{"t":2192,"v":-71},{"t":2212,"v":-73},{"t":2227,"v":-72},{"t":2252,"v":-73.5},{"t":2267,"v":-72.5},{"t":2297,"v":-73.5},{"t":2317,"v":-72.5},{"t":2347,"v":-73},{"t":2377,"v":-72},{"t":2407,"v":-72.5},{"t":2437,"v":-71},{"t":2457,"v":-70},
{"t":2651,"v":-62},{"t":2655,"v":27},{"t":2661,"v":-80},{"t":2691,"v":-68},{"t":2697,"v":15},{"t":2703,"v":-80},{"t":2730,"v":-68},{"t":2743,"v":-62},{"t":2755,"v":-80},{"t":2770,"v":-69},
{"t":3058,"v":-66},{"t":3068,"v":-70},{"t":3083,"v":-72},{"t":3098,"v":-71},{"t":3118,"v":-73},{"t":3133,"v":-72},{"t":3158,"v":-73.5},{"t":3173,"v":-72.5},{"t":3203,"v":-73.5},{"t":3223,"v":-72.5},{"t":3253,"v":-73},{"t":3283,"v":-72},{"t":3313,"v":-72.5},{"t":3343,"v":-71},{"t":3363,"v":-70},
{"t":3553,"v":-62},{"t":3557,"v":27},{"t":3563,"v":-80},{"t":3593,"v":-68},{"t":3599,"v":15},{"t":3605,"v":-80},{"t":3632,"v":-68},{"t":3645,"v":-62},{"t":3657,"v":-80},{"t":3672,"v":-69},
{"t":3965,"v":-66},{"t":3975,"v":-70},{"t":3990,"v":-72},{"t":4005,"v":-71},{"t":4025,"v":-73},{"t":4040,"v":-72},{"t":4065,"v":-73.5},{"t":4080,"v":-72.5},{"t":4110,"v":-73.5},{"t":4130,"v":-72.5},{"t":4160,"v":-73},{"t":4190,"v":-72},{"t":4220,"v":-72.5},{"t":4250,"v":-71},{"t":4270,"v":-70},
{"t":4463,"v":-62},{"t":4467,"v":27},{"t":4473,"v":-80},{"t":4503,"v":-68},{"t":4509,"v":15},{"t":4515,"v":-80},{"t":4542,"v":-68},{"t":4555,"v":-62},{"t":4567,"v":-80},{"t":4582,"v":-69},
{"t":4866,"v":-66},{"t":4876,"v":-70},{"t":4891,"v":-72},{"t":4906,"v":-71},{"t":4926,"v":-73},{"t":4941,"v":-72},{"t":4966,"v":-73.5},{"t":4981,"v":-72.5},{"t":5011,"v":-73.5},{"t":5031,"v":-72.5},{"t":5061,"v":-73},{"t":5091,"v":-72},{"t":5121,"v":-72.5},{"t":5151,"v":-71},{"t":5171,"v":-70},
{"t":5365,"v":-62},{"t":5369,"v":27},{"t":5375,"v":-80},{"t":5405,"v":-68},{"t":5411,"v":15},{"t":5417,"v":-80},{"t":5444,"v":-68},{"t":5457,"v":-62},{"t":5469,"v":-80},{"t":5484,"v":-69},
{"t":5772,"v":-66},{"t":5782,"v":-70},{"t":5797,"v":-72},{"t":5812,"v":-71},{"t":5832,"v":-73},{"t":5847,"v":-72},{"t":5872,"v":-73.5},{"t":5887,"v":-72.5},{"t":5917,"v":-73.5},{"t":5937,"v":-72.5},{"t":5967,"v":-73},{"t":5997,"v":-72},{"t":6027,"v":-72.5},{"t":6057,"v":-71},{"t":6070,"v":-70}],
"Dg":[{"t":0,"v":-65},{"t":372,"v":-65},{"t":378,"v":-72},{"t":392,"v":-71},{"t":405,"v":-72.5},{"t":420,"v":-71.5},{"t":435,"v":-72.5},{"t":450,"v":-71.5},{"t":465,"v":-72.5},{"t":480,"v":-71.5},{"t":495,"v":-72.5},{"t":510,"v":-71.5},{"t":525,"v":-72.5},{"t":540,"v":-71.5},{"t":560,"v":-72},{"t":590,"v":-71},{"t":630,"v":-70},
{"t":843,"v":-63},{"t":847,"v":35},{"t":853,"v":-80},{"t":875,"v":-68},{"t":879,"v":16},{"t":885,"v":-80},{"t":911,"v":-68},{"t":915,"v":16},{"t":921,"v":-80},{"t":947,"v":-68},{"t":960,"v":-60},{"t":972,"v":-80},{"t":987,"v":-71},
{"t":1180,"v":-69},{"t":1188,"v":-72},{"t":1210,"v":-71},{"t":1220,"v":-73},{"t":1246,"v":-71.5},{"t":1256,"v":-73},{"t":1290,"v":-72},{"t":1321,"v":-73},{"t":1340,"v":-72},{"t":1380,"v":-71.5},
{"t":1728,"v":-63},{"t":1732,"v":35},{"t":1738,"v":-80},{"t":1760,"v":-68},{"t":1764,"v":16},{"t":1770,"v":-80},{"t":1796,"v":-68},{"t":1800,"v":16},{"t":1806,"v":-80},{"t":1832,"v":-68},{"t":1845,"v":-60},{"t":1857,"v":-80},{"t":1872,"v":-71},
{"t":2107,"v":-69},{"t":2115,"v":-72},{"t":2137,"v":-71},{"t":2147,"v":-73},{"t":2173,"v":-71.5},{"t":2183,"v":-73},{"t":2217,"v":-72},{"t":2248,"v":-73},{"t":2267,"v":-72},{"t":2307,"v":-71.5},
{"t":2631,"v":-63},{"t":2635,"v":35},{"t":2641,"v":-80},{"t":2663,"v":-68},{"t":2667,"v":16},{"t":2673,"v":-80},{"t":2699,"v":-68},{"t":2703,"v":16},{"t":2709,"v":-80},{"t":2735,"v":-68},{"t":2748,"v":-60},{"t":2760,"v":-80},{"t":2775,"v":-71},
{"t":3017,"v":-69},{"t":3025,"v":-72},{"t":3047,"v":-71},{"t":3057,"v":-73},{"t":3083,"v":-71.5},{"t":3093,"v":-73},{"t":3127,"v":-72},{"t":3158,"v":-73},{"t":3177,"v":-72},{"t":3217,"v":-71.5},
{"t":3536,"v":-63},{"t":3540,"v":35},{"t":3546,"v":-80},{"t":3568,"v":-68},{"t":3572,"v":16},{"t":3578,"v":-80},{"t":3604,"v":-68},{"t":3608,"v":16},{"t":3614,"v":-80},{"t":3640,"v":-68},{"t":3653,"v":-60},{"t":3665,"v":-80},{"t":3680,"v":-71},
{"t":3923,"v":-69},{"t":3931,"v":-72},{"t":3953,"v":-71},{"t":3963,"v":-73},{"t":3989,"v":-71.5},{"t":3999,"v":-73},{"t":4033,"v":-72},{"t":4064,"v":-73},{"t":4083,"v":-72},{"t":4123,"v":-71.5},
{"t":4443,"v":-63},{"t":4447,"v":35},{"t":4453,"v":-80},{"t":4475,"v":-68},{"t":4479,"v":16},{"t":4485,"v":-80},{"t":4511,"v":-68},{"t":4515,"v":16},{"t":4521,"v":-80},{"t":4547,"v":-68},{"t":4560,"v":-60},{"t":4572,"v":-80},{"t":4587,"v":-71},
{"t":4830,"v":-69},{"t":4838,"v":-72},{"t":4860,"v":-71},{"t":4870,"v":-73},{"t":4896,"v":-71.5},{"t":4906,"v":-73},{"t":4940,"v":-72},{"t":4971,"v":-73},{"t":4990,"v":-72},{"t":5030,"v":-71.5},
{"t":5349,"v":-63},{"t":5353,"v":35},{"t":5359,"v":-80},{"t":5381,"v":-68},{"t":5385,"v":16},{"t":5391,"v":-80},{"t":5417,"v":-68},{"t":5421,"v":16},{"t":5427,"v":-80},{"t":5453,"v":-68},{"t":5466,"v":-60},{"t":5478,"v":-80},{"t":5493,"v":-71},
{"t":5735,"v":-69},{"t":5743,"v":-72},{"t":5765,"v":-71},{"t":5775,"v":-73},{"t":5801,"v":-71.5},{"t":5811,"v":-73},{"t":5845,"v":-72},{"t":5876,"v":-73},{"t":5895,"v":-72},{"t":5935,"v":-71.5},
{"t":6070,"v":-66}],
"Dp":[{"t":0,"v":-65},{"t":847,"v":-65},{"t":855,"v":-71.5},{"t":877,"v":-70.5},{"t":887,"v":-72.5},{"t":913,"v":-71},{"t":923,"v":-72.5},{"t":957,"v":-71.5},{"t":982,"v":-71},
{"t":1176,"v":-63},{"t":1180,"v":41},{"t":1186,"v":-80},{"t":1208,"v":-68},{"t":1212,"v":15},{"t":1218,"v":-80},{"t":1244,"v":-68},{"t":1248,"v":16},{"t":1254,"v":-80},{"t":1317,"v":-68},{"t":1321,"v":16},{"t":1327,"v":-80},{"t":1357,"v":-62},{"t":1369,"v":-80},{"t":1385,"v":-71},
{"t":1732,"v":-68},{"t":1740,"v":-71.5},{"t":1762,"v":-70.5},{"t":1772,"v":-72.5},{"t":1798,"v":-71},{"t":1808,"v":-72.5},{"t":1842,"v":-71.5},{"t":1867,"v":-71},
{"t":2103,"v":-63},{"t":2107,"v":41},{"t":2113,"v":-80},{"t":2135,"v":-68},{"t":2139,"v":15},{"t":2145,"v":-80},{"t":2171,"v":-68},{"t":2175,"v":16},{"t":2181,"v":-80},{"t":2244,"v":-68},{"t":2248,"v":16},{"t":2254,"v":-80},{"t":2284,"v":-62},{"t":2296,"v":-80},{"t":2312,"v":-71},
{"t":2635,"v":-68},{"t":2643,"v":-71.5},{"t":2665,"v":-70.5},{"t":2675,"v":-72.5},{"t":2701,"v":-71},{"t":2711,"v":-72.5},{"t":2745,"v":-71.5},{"t":2770,"v":-71},
{"t":3013,"v":-63},{"t":3017,"v":41},{"t":3023,"v":-80},{"t":3045,"v":-68},{"t":3049,"v":15},{"t":3055,"v":-80},{"t":3081,"v":-68},{"t":3085,"v":16},{"t":3091,"v":-80},{"t":3154,"v":-68},{"t":3158,"v":16},{"t":3164,"v":-80},{"t":3194,"v":-62},{"t":3206,"v":-80},{"t":3222,"v":-71},
{"t":3540,"v":-68},{"t":3548,"v":-71.5},{"t":3570,"v":-70.5},{"t":3580,"v":-72.5},{"t":3606,"v":-71},{"t":3616,"v":-72.5},{"t":3650,"v":-71.5},{"t":3675,"v":-71},
{"t":3919,"v":-63},{"t":3923,"v":41},{"t":3929,"v":-80},{"t":3951,"v":-68},{"t":3955,"v":15},{"t":3961,"v":-80},{"t":3987,"v":-68},{"t":3991,"v":16},{"t":3997,"v":-80},{"t":4060,"v":-68},{"t":4064,"v":16},{"t":4070,"v":-80},{"t":4100,"v":-62},{"t":4112,"v":-80},{"t":4128,"v":-71},
{"t":4447,"v":-68},{"t":4455,"v":-71.5},{"t":4477,"v":-70.5},{"t":4487,"v":-72.5},{"t":4513,"v":-71},{"t":4523,"v":-72.5},{"t":4557,"v":-71.5},{"t":4582,"v":-71},
{"t":4826,"v":-63},{"t":4830,"v":41},{"t":4836,"v":-80},{"t":4858,"v":-68},{"t":4862,"v":15},{"t":4868,"v":-80},{"t":4894,"v":-68},{"t":4898,"v":16},{"t":4904,"v":-80},{"t":4967,"v":-68},{"t":4971,"v":16},{"t":4977,"v":-80},{"t":5007,"v":-62},{"t":5019,"v":-80},{"t":5035,"v":-71},
{"t":5353,"v":-68},{"t":5361,"v":-71.5},{"t":5383,"v":-70.5},{"t":5393,"v":-72.5},{"t":5419,"v":-71},{"t":5429,"v":-72.5},{"t":5463,"v":-71.5},{"t":5488,"v":-71},
{"t":5731,"v":-63},{"t":5735,"v":41},{"t":5741,"v":-80},{"t":5763,"v":-68},{"t":5767,"v":15},{"t":5773,"v":-80},{"t":5799,"v":-68},{"t":5803,"v":16},{"t":5809,"v":-80},{"t":5872,"v":-68},{"t":5876,"v":16},{"t":5882,"v":-80},{"t":5912,"v":-62},{"t":5924,"v":-80},{"t":5940,"v":-71},
{"t":6070,"v":-67}]
},
"vconcat":[
{"spacing":28,"vconcat":[
{"hconcat":[
{"title":"Base pattern: quadrupedal trot","width":1214,"height":268,"encoding":{"x":{"field":"t","type":"quantitative","scale":{"domain":[0,6070]},"axis":null},"y":{"field":"v","type":"quantitative","scale":{"domain":[-82,52]},"axis":null}},"layer":[
{"data":{"name":"Ao"},"mark":{"type":"line","color":"#F0823A"}},
{"data":{"name":"At"},"mark":{"type":"line","color":"#00707B"}}]},
{"title":"Network-wide neuromodulation: pace change","width":1214,"height":268,"encoding":{"x":{"field":"t","type":"quantitative","scale":{"domain":[0,6070]},"axis":null},"y":{"field":"v","type":"quantitative","scale":{"domain":[-82,52]},"axis":null}},"layer":[
{"data":{"name":"Bo"},"mark":{"type":"line","color":"#F0823A"}},
{"data":{"name":"Bt"},"mark":{"type":"line","color":"#00707B"}}]}
],"spacing":134,"bounds":"flush"},
{"hconcat":[
{"width":1214,"height":268,"encoding":{"x":{"field":"t","type":"quantitative","scale":{"domain":[0,6070]},"axis":null},"y":{"field":"v","type":"quantitative","scale":{"domain":[-82,52]},"axis":null}},"layer":[
{"data":{"name":"At"},"mark":{"type":"line","color":"#2B9B3A"}},
{"data":{"name":"Ap"},"mark":{"type":"line","color":"#A85CA2"}}]},
{"width":1214,"height":268,"encoding":{"x":{"field":"t","type":"quantitative","scale":{"domain":[0,6070]},"axis":null},"y":{"field":"v","type":"quantitative","scale":{"domain":[-82,52]},"axis":null}},"layer":[
{"data":{"name":"Bt"},"mark":{"type":"line","color":"#2B9B3A"}},
{"data":{"name":"Bp"},"mark":{"type":"line","color":"#A85CA2"}}]}
],"spacing":134,"bounds":"flush"}
]},
{"spacing":18,"vconcat":[
{"hconcat":[
{"title":"Ipsilateral neuromodulation: steering","width":1214,"height":268,"encoding":{"x":{"field":"t","type":"quantitative","scale":{"domain":[0,6070]},"axis":null},"y":{"field":"v","type":"quantitative","scale":{"domain":[-82,52]},"axis":null}},"layer":[
{"data":{"name":"Co"},"mark":{"type":"line","color":"#F0823A"}},
{"data":{"name":"Ct"},"mark":{"type":"line","color":"#00707B"}}]},
{"title":"Rhythm robustness to neuron heterogeneity","width":1214,"height":268,"encoding":{"x":{"field":"t","type":"quantitative","scale":{"domain":[0,6070]},"axis":null},"y":{"field":"v","type":"quantitative","scale":{"domain":[-82,52]},"axis":null}},"layer":[
{"data":{"name":"Do"},"mark":{"type":"line","color":"#F0823A"}},
{"data":{"name":"Dt"},"mark":{"type":"line","color":"#00707B"}}]}
],"spacing":134,"bounds":"flush"},
{"hconcat":[
{"width":1214,"height":268,"encoding":{"x":{"field":"t","type":"quantitative","scale":{"domain":[0,6070]},"axis":null},"y":{"field":"v","type":"quantitative","scale":{"domain":[-82,52]},"axis":null}},"layer":[
{"data":{"name":"Cg"},"mark":{"type":"line","color":"#2B9B3A"}},
{"data":{"name":"Cp"},"mark":{"type":"line","color":"#A85CA2"}}]},
{"width":1214,"height":268,"encoding":{"x":{"field":"t","type":"quantitative","scale":{"domain":[0,6070]},"axis":null},"y":{"field":"v","type":"quantitative","scale":{"domain":[-82,52]},"axis":null}},"layer":[
{"data":{"name":"Dg"},"mark":{"type":"line","color":"#2B9B3A"}},
{"data":{"name":"Dp"},"mark":{"type":"line","color":"#A85CA2"}}]}
],"spacing":134,"bounds":"flush"}
]}
],
"spacing":109
}
